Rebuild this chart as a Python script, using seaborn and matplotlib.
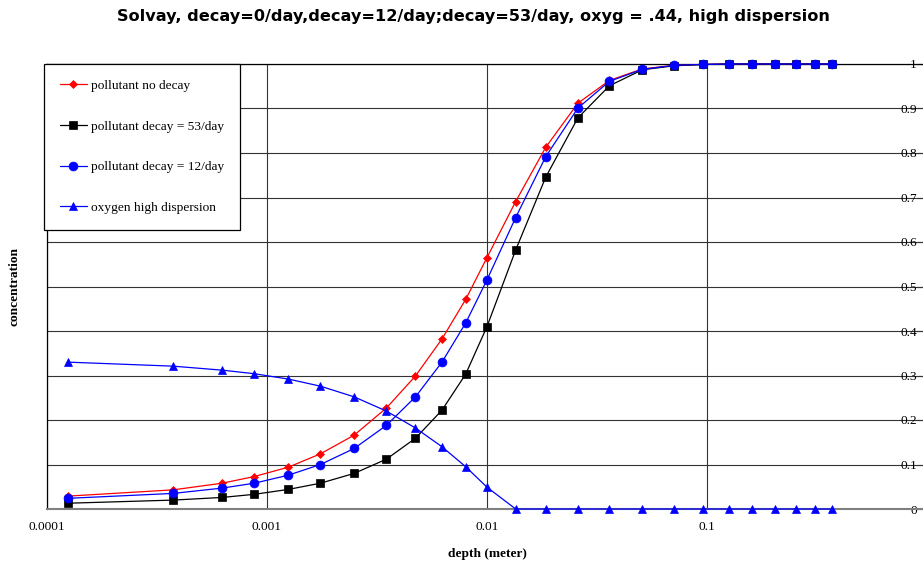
import matplotlib
matplotlib.use("Agg")
import matplotlib.pyplot as plt
import seaborn as sns
import numpy as np

depth = [1.25e-4, 3.74e-4, 6.26e-4, 8.76e-4, 1.25e-3, 1.75e-3, 2.49e-3, 3.49e-3,
         4.73e-3, 6.24e-3, 8.0e-3, 0.01, 0.0135, 0.0185, 0.0259, 0.036, 0.0508,
         0.071, 0.096, 0.1255, 0.160, 0.204, 0.255, 0.310, 0.369]
no_decay = [0.029, 0.043, 0.058, 0.073, 0.094, 0.124, 0.166, 0.227, 0.299, 0.382,
            0.471, 0.565, 0.691, 0.813, 0.912, 0.963, 0.989, 0.997, 0.999,
            1, 1, 1, 1, 1, 1]
decay53 = [0.013, 0.020, 0.026, 0.033, 0.044, 0.058, 0.080, 0.112, 0.159, 0.222,
           0.303, 0.410, 0.582, 0.746, 0.879, 0.951, 0.987, 0.996, 0.999,
           1, 1, 1, 1, 1, 1]
decay12 = [0.024, 0.035, 0.047, 0.058, 0.076, 0.100, 0.136, 0.188, 0.252, 0.330,
           0.418, 0.515, 0.655, 0.792, 0.901, 0.961, 0.988, 0.997, 0.999,
           1, 1, 1, 1, 1, 1]
oxygen = [0.330, 0.321, 0.312, 0.304, 0.292, 0.276, 0.252, 0.220, 0.182, 0.140,
          0.095, 0.049, 0, 0, 0, 0, 0, 0, 0, 0, 0, 0, 0, 0, 0]

series_labels = ["pollutant no decay", "pollutant decay = 53/day",
                 "pollutant decay = 12/day", "oxygen high dispersion"]
xtick_vals = [1e-4, 1e-3, 1e-2, 1e-1]
xtick_labels = ["0.0001", "0.001", "0.01", "0.1"]
ytick_vals = [0, 0.1, 0.2, 0.3, 0.4, 0.5, 0.6, 0.7, 0.8, 0.9, 1.0]
ytick_labels = ["0", "0.1", "0.2", "0.3", "0.4", "0.5", "0.6", "0.7", "0.8", "0.9", "1"]
title = "Solvay, decay=0/day,decay=12/day;decay=53/day, oxyg = .44, high dispersion"

sns.set_style("white")
plt.rcParams["font.family"] = ["Liberation Serif", "DejaVu Serif"]
plt.rcParams["text.color"] = "black"
plt.rcParams["xtick.color"] = "black"
plt.rcParams["ytick.color"] = "black"
plt.rcParams["xtick.labelcolor"] = "black"
plt.rcParams["ytick.labelcolor"] = "black"

FS = 9.6
W, H = 923, 564
fig = plt.figure(figsize=(W / 100, H / 100), dpi=100)
ax = fig.add_axes([47 / W, 55 / H, 880 / W, 445 / H])

styles = [
    (no_decay, "#FF0000", "D", 4.2),
    (decay53, "#000000", "s", 6.0),
    (decay12, "#0000FF", "o", 6.4),
    (oxygen, "#0000FF", "^", 6.4),
]
for (vals, col, mk, ms), lab in zip(styles, series_labels):
    sns.lineplot(x=depth, y=vals, ax=ax, color=col, marker=mk, markersize=ms,
                 markeredgecolor=col, markerfacecolor=col, markeredgewidth=0.5,
                 linewidth=0.9, label=lab, sort=False, estimator=None, zorder=3,
                 clip_on=False)

ax.set_xscale("log")
ax.set_xlim(1e-4, 1.0)
ax.set_ylim(0, 1)
ax.set_xticks(xtick_vals, xtick_labels)
ax.xaxis.set_minor_locator(matplotlib.ticker.NullLocator())
ax.set_yticks(ytick_vals, ytick_labels)

ax.grid(True, which="major", axis="both", color="#333333", linewidth=0.8, zorder=0)
ax.set_axisbelow(True)

for s in ["top", "left"]:
    ax.spines[s].set_color("black")
    ax.spines[s].set_linewidth(0.9)
ax.spines["right"].set_visible(False)
ax.spines["bottom"].set_color("#808080")
ax.spines["bottom"].set_linewidth(1.5)

ax.tick_params(axis="x", which="major", direction="inout", length=7, width=0.8,
               color="#333333", labelsize=FS, pad=5)
ax.yaxis.tick_right()
ax.tick_params(axis="y", which="major", direction="in", length=7, width=0.8,
               color="#333333", labelsize=FS, pad=-7.2)
for lab in ax.get_yticklabels():
    lab.set_horizontalalignment("right")

ax.set_xlabel("")
ax.set_ylabel("")
fig.text(487 / W, 1 - 554 / H, "depth (meter)", ha="center", va="center",
         fontsize=FS, fontweight="bold", color="black")
fig.text(15 / W, 1 - 286 / H, "concentration", ha="center", va="center",
         rotation=90, fontsize=FS, fontweight="bold", color="black")
fig.text(473 / W, 1 - 17 / H, title, ha="center", va="center", fontsize=11.6,
         fontweight="bold", family=["DejaVu Sans"], color="black")

leg = ax.legend(loc="upper left", bbox_to_anchor=(44 / W, 1 - 64 / H),
                bbox_transform=fig.transFigure, borderaxespad=0,
                fontsize=FS, frameon=True, fancybox=False, shadow=False,
                edgecolor="black", framealpha=1, labelspacing=2.12,
                borderpad=1.18, handlelength=2.05, handletextpad=0.32)
leg.get_frame().set_linewidth(0.9)
leg.set_zorder(10)
for t in leg.get_texts():
    t.set_color("black")

fig.savefig("out.png", dpi=100)
